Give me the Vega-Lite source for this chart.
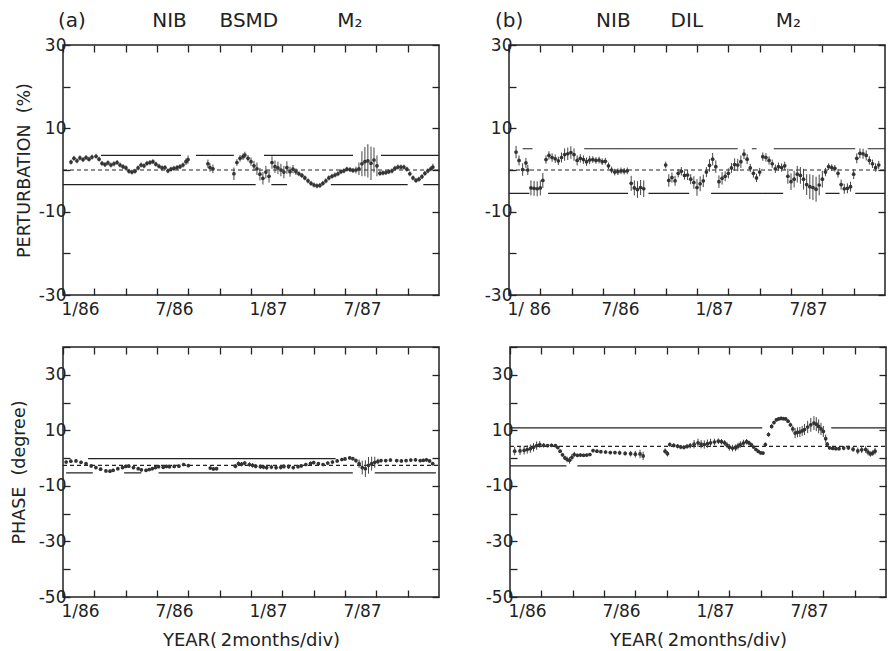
{
"$schema":"https://vega.github.io/schema/vega-lite/v6.json",
"background":"white",
"padding":{"left":9,"top":10,"right":2,"bottom":0},
"config":{"font":"DejaVu Sans","view":{"stroke":"#222","strokeWidth":1.5},"axis":{"labelColor":"#222","tickColor":"#222","titleColor":"#222","tickWidth":1.3,"domain":false,"grid":false,"labelFontSize":17,"labelOverlap":false,"labelFlush":false,"labelBound":false,"tickSize":-7,"titleFontWeight":"normal"}},
"datasets":{
"lines":[
{"p":"a","k":"s","v":3.5,"m1":2.43,"m2":7.53},{"p":"a","k":"s","v":3.5,"m1":8.49,"m2":10.91},{"p":"a","k":"s","v":3.5,"m1":12.83,"m2":18.51},{"p":"a","k":"s","v":3.5,"m1":20.3,"m2":24},
{"p":"a","k":"d","v":0,"m1":0,"m2":24},
{"p":"a","k":"s","v":-3.5,"m1":0,"m2":12.3},{"p":"a","k":"s","v":-3.5,"m1":13.3,"m2":14.3},{"p":"a","k":"s","v":-3.5,"m1":17.1,"m2":22.0},{"p":"a","k":"s","v":-3.5,"m1":23.0,"m2":24},
{"p":"b","k":"s","v":5.1,"m1":0.87,"m2":1.5},{"p":"b","k":"s","v":5.1,"m1":4.8,"m2":14.6},{"p":"b","k":"s","v":5.1,"m1":15.5,"m2":15.8},{"p":"b","k":"s","v":5.1,"m1":16.9,"m2":22.1},{"p":"b","k":"s","v":5.1,"m1":22.9,"m2":24},
{"p":"b","k":"d","v":0,"m1":0,"m2":24},
{"p":"b","k":"s","v":-5.6,"m1":0,"m2":1.3},{"p":"b","k":"s","v":-5.6,"m1":2.5,"m2":7.6},{"p":"b","k":"s","v":-5.6,"m1":8.9,"m2":11.5},{"p":"b","k":"s","v":-5.6,"m1":12.9,"m2":17.5},{"p":"b","k":"s","v":-5.6,"m1":20.2,"m2":21.1},{"p":"b","k":"s","v":-5.6,"m1":22.1,"m2":24},
{"p":"c","k":"s","v":-0.2,"m1":1.6,"m2":17.4},
{"p":"c","k":"d","v":-2.6,"m1":0,"m2":24},
{"p":"c","k":"s","v":-5.3,"m1":0.2,"m2":1.9},{"p":"c","k":"s","v":-5.3,"m1":3.9,"m2":5.0},{"p":"c","k":"s","v":-5.3,"m1":6.1,"m2":18.5},{"p":"c","k":"s","v":-5.3,"m1":19.9,"m2":23.8},
{"p":"d","k":"s","v":10.9,"m1":0,"m2":16.1},{"p":"d","k":"s","v":10.9,"m1":20.5,"m2":24},
{"p":"d","k":"d","v":4.2,"m1":0,"m2":24},
{"p":"d","k":"s","v":-2.8,"m1":0,"m2":3.6},{"p":"d","k":"s","v":-2.8,"m1":4.3,"m2":24}
],
"pts":[
{"p":"a","m":0.51,"v":1.9,"e":0.6},{"p":"a","m":0.70,"v":2.8,"e":0.6},{"p":"a","m":0.89,"v":2.2,"e":0.6},{"p":"a","m":1.08,"v":2.9,"e":0.6},{"p":"a","m":1.28,"v":2.5,"e":0.6},{"p":"a","m":1.47,"v":3.0,"e":0.6},{"p":"a","m":1.66,"v":2.6,"e":0.6},{"p":"a","m":1.85,"v":3.1,"e":0.6},{"p":"a","m":2.11,"v":3.3,"e":0.6},{"p":"a","m":2.30,"v":2.6,"e":0.6},{"p":"a","m":2.49,"v":1.6,"e":0.6},{"p":"a","m":2.68,"v":1.3,"e":0.6},{"p":"a","m":2.87,"v":1.7,"e":0.6},{"p":"a","m":3.06,"v":1.2,"e":0.6},{"p":"a","m":3.25,"v":1.5,"e":0.6},{"p":"a","m":3.45,"v":1.8,"e":0.6},{"p":"a","m":3.64,"v":1.2,"e":0.6},{"p":"a","m":3.83,"v":0.8,"e":0.6},{"p":"a","m":4.02,"v":0.5,"e":0.6},{"p":"a","m":4.21,"v":-0.3,"e":0.6},{"p":"a","m":4.40,"v":-0.5,"e":0.6},{"p":"a","m":4.59,"v":-0.3,"e":0.6},{"p":"a","m":4.79,"v":0.5,"e":0.6},{"p":"a","m":4.98,"v":1.2,"e":0.6},{"p":"a","m":5.17,"v":1.0,"e":0.6},{"p":"a","m":5.36,"v":1.6,"e":0.6},{"p":"a","m":5.55,"v":1.8,"e":0.6},{"p":"a","m":5.74,"v":2.0,"e":0.6},{"p":"a","m":5.93,"v":1.4,"e":0.6},{"p":"a","m":6.13,"v":0.9,"e":0.6},{"p":"a","m":6.32,"v":0.5,"e":0.6},{"p":"a","m":6.51,"v":0.6,"e":0.6},{"p":"a","m":6.70,"v":-0.2,"e":0.6},{"p":"a","m":6.89,"v":0.2,"e":0.6},{"p":"a","m":7.08,"v":0.4,"e":0.6},{"p":"a","m":7.28,"v":0.6,"e":0.6},{"p":"a","m":7.47,"v":0.8,"e":0.6},{"p":"a","m":7.66,"v":1.2,"e":0.6},{"p":"a","m":7.85,"v":2.0,"e":0.8},{"p":"a","m":7.98,"v":2.5,"e":1.0},
{"p":"a","m":9.25,"v":1.5,"e":1.0},{"p":"a","m":9.38,"v":0.6,"e":1.0},{"p":"a","m":9.57,"v":0.3,"e":1.0},
{"p":"a","m":10.91,"v":-0.9,"e":1.5},{"p":"a","m":11.10,"v":1.8,"e":0.8},{"p":"a","m":11.30,"v":2.8,"e":0.8},{"p":"a","m":11.49,"v":3.2,"e":0.8},{"p":"a","m":11.61,"v":3.6,"e":0.8},{"p":"a","m":11.81,"v":2.8,"e":0.8},{"p":"a","m":12.00,"v":2.0,"e":1.0},{"p":"a","m":12.19,"v":1.0,"e":1.2},{"p":"a","m":12.38,"v":0.3,"e":1.5},{"p":"a","m":12.57,"v":-1.0,"e":1.5},{"p":"a","m":12.76,"v":-2.0,"e":1.5},{"p":"a","m":12.95,"v":-0.5,"e":1.5},{"p":"a","m":13.15,"v":-1.5,"e":1.5},{"p":"a","m":13.34,"v":1.8,"e":1.5},{"p":"a","m":13.53,"v":0.8,"e":1.5},{"p":"a","m":13.72,"v":0.5,"e":1.5},{"p":"a","m":13.91,"v":0.0,"e":1.5},{"p":"a","m":14.10,"v":-0.5,"e":1.5},{"p":"a","m":14.29,"v":0.6,"e":1.5},{"p":"a","m":14.49,"v":-0.4,"e":1.2},{"p":"a","m":14.68,"v":0.2,"e":1.0},{"p":"a","m":14.87,"v":-0.4,"e":0.8},{"p":"a","m":15.06,"v":-0.9,"e":0.6},{"p":"a","m":15.25,"v":-1.3,"e":0.6},{"p":"a","m":15.44,"v":-1.9,"e":0.6},{"p":"a","m":15.64,"v":-2.6,"e":0.6},{"p":"a","m":15.83,"v":-3.2,"e":0.6},{"p":"a","m":16.02,"v":-3.6,"e":0.6},{"p":"a","m":16.21,"v":-3.8,"e":0.6},{"p":"a","m":16.40,"v":-3.7,"e":0.6},{"p":"a","m":16.59,"v":-3.2,"e":0.6},{"p":"a","m":16.78,"v":-2.6,"e":0.6},{"p":"a","m":16.97,"v":-1.9,"e":0.6},{"p":"a","m":17.17,"v":-1.5,"e":0.6},{"p":"a","m":17.36,"v":-1.2,"e":0.6},{"p":"a","m":17.55,"v":-0.9,"e":0.6},{"p":"a","m":17.74,"v":-0.4,"e":0.6},{"p":"a","m":17.93,"v":-0.2,"e":0.6},{"p":"a","m":18.12,"v":0.2,"e":0.6},{"p":"a","m":18.32,"v":0.1,"e":0.6},{"p":"a","m":18.51,"v":-0.1,"e":0.6},{"p":"a","m":18.70,"v":0.0,"e":0.8},{"p":"a","m":18.89,"v":0.3,"e":1.5},{"p":"a","m":19.08,"v":1.5,"e":3.0},{"p":"a","m":19.27,"v":2.0,"e":3.5},{"p":"a","m":19.46,"v":2.2,"e":4.0},{"p":"a","m":19.66,"v":1.6,"e":4.0},{"p":"a","m":19.85,"v":2.4,"e":3.0},{"p":"a","m":20.04,"v":1.0,"e":2.5},{"p":"a","m":20.23,"v":-0.8,"e":0.6},{"p":"a","m":20.42,"v":-0.7,"e":0.6},{"p":"a","m":20.61,"v":-0.6,"e":0.6},{"p":"a","m":20.80,"v":-0.4,"e":0.6},{"p":"a","m":21.00,"v":-0.2,"e":0.6},{"p":"a","m":21.19,"v":0.4,"e":0.6},{"p":"a","m":21.38,"v":0.7,"e":0.6},{"p":"a","m":21.57,"v":0.7,"e":0.6},{"p":"a","m":21.76,"v":0.7,"e":0.6},{"p":"a","m":21.95,"v":0.2,"e":0.6},{"p":"a","m":22.14,"v":-0.9,"e":0.6},{"p":"a","m":22.34,"v":-1.9,"e":0.6},{"p":"a","m":22.53,"v":-2.5,"e":0.6},{"p":"a","m":22.72,"v":-2.2,"e":0.6},{"p":"a","m":22.91,"v":-1.6,"e":0.6},{"p":"a","m":23.10,"v":-0.8,"e":0.6},{"p":"a","m":23.29,"v":-0.2,"e":0.6},{"p":"a","m":23.48,"v":0.3,"e":0.6},{"p":"a","m":23.61,"v":0.7,"e":0.8},
{"p":"b","m":0.45,"v":4.3,"e":1.5},{"p":"b","m":0.64,"v":2.3,"e":1.2},{"p":"b","m":0.87,"v":0.1,"e":1.5},{"p":"b","m":1.08,"v":1.7,"e":1.2},{"p":"b","m":1.2,"v":0.0,"e":1.2},{"p":"b","m":1.4,"v":-4.3,"e":1.8},{"p":"b","m":1.6,"v":-4.4,"e":1.8},{"p":"b","m":1.8,"v":-4.5,"e":1.8},{"p":"b","m":2.0,"v":-4.3,"e":1.8},{"p":"b","m":2.16,"v":-2.5,"e":1.8},{"p":"b","m":2.36,"v":2.5,"e":1.0},{"p":"b","m":2.55,"v":3.5,"e":1.0},{"p":"b","m":2.75,"v":3.0,"e":1.0},{"p":"b","m":2.95,"v":2.7,"e":1.0},{"p":"b","m":3.15,"v":2.2,"e":1.0},{"p":"b","m":3.35,"v":3.0,"e":1.2},{"p":"b","m":3.55,"v":3.7,"e":1.5},{"p":"b","m":3.75,"v":3.9,"e":1.5},{"p":"b","m":3.95,"v":4.2,"e":1.5},{"p":"b","m":4.15,"v":3.7,"e":1.5},{"p":"b","m":4.35,"v":2.3,"e":1.2},{"p":"b","m":4.55,"v":2.8,"e":1.0},{"p":"b","m":4.75,"v":2.5,"e":1.0},{"p":"b","m":4.95,"v":2.0,"e":1.0},{"p":"b","m":5.15,"v":2.4,"e":1.0},{"p":"b","m":5.35,"v":2.5,"e":0.8},{"p":"b","m":5.55,"v":2.3,"e":0.8},{"p":"b","m":5.75,"v":2.4,"e":0.8},{"p":"b","m":5.95,"v":2.0,"e":0.8},{"p":"b","m":6.15,"v":2.1,"e":0.8},{"p":"b","m":6.35,"v":1.0,"e":0.8},{"p":"b","m":6.55,"v":0.0,"e":0.8},{"p":"b","m":6.75,"v":-0.5,"e":0.8},{"p":"b","m":6.95,"v":-0.4,"e":0.8},{"p":"b","m":7.15,"v":-0.2,"e":0.8},{"p":"b","m":7.35,"v":-0.3,"e":0.8},{"p":"b","m":7.55,"v":-0.2,"e":0.8},{"p":"b","m":7.8,"v":-3.2,"e":1.8},{"p":"b","m":8.0,"v":-4.3,"e":1.8},{"p":"b","m":8.2,"v":-4.7,"e":2.0},{"p":"b","m":8.4,"v":-4.2,"e":1.8},{"p":"b","m":8.6,"v":-4.5,"e":2.0},
{"p":"b","m":10.0,"v":1.2,"e":0.8},{"p":"b","m":10.2,"v":-2.5,"e":1.5},{"p":"b","m":10.4,"v":-1.8,"e":1.2},{"p":"b","m":10.6,"v":-2.6,"e":1.2},{"p":"b","m":10.8,"v":-0.8,"e":1.0},{"p":"b","m":11.0,"v":-0.3,"e":1.0},{"p":"b","m":11.2,"v":-1.3,"e":1.0},{"p":"b","m":11.4,"v":-1.2,"e":1.2},{"p":"b","m":11.6,"v":-2.2,"e":1.2},{"p":"b","m":11.8,"v":-3.0,"e":1.5},{"p":"b","m":12.0,"v":-4.2,"e":2.0},{"p":"b","m":12.2,"v":-3.3,"e":1.8},{"p":"b","m":12.4,"v":-2.6,"e":1.5},{"p":"b","m":12.6,"v":-0.5,"e":1.2},{"p":"b","m":12.8,"v":1.1,"e":1.5},{"p":"b","m":13.0,"v":2.6,"e":1.5},{"p":"b","m":13.2,"v":0.8,"e":1.5},{"p":"b","m":13.4,"v":-2.8,"e":1.5},{"p":"b","m":13.6,"v":-2.0,"e":1.5},{"p":"b","m":13.8,"v":-1.5,"e":1.2},{"p":"b","m":14.0,"v":-0.8,"e":1.2},{"p":"b","m":14.2,"v":0.5,"e":1.2},{"p":"b","m":14.4,"v":1.3,"e":1.5},{"p":"b","m":14.6,"v":1.2,"e":1.5},{"p":"b","m":14.8,"v":2.0,"e":1.5},{"p":"b","m":15.0,"v":3.8,"e":1.2},{"p":"b","m":15.2,"v":2.6,"e":1.2},{"p":"b","m":15.4,"v":0.5,"e":1.0},{"p":"b","m":15.6,"v":-0.8,"e":1.0},{"p":"b","m":15.8,"v":-1.9,"e":1.0},{"p":"b","m":16.0,"v":-0.5,"e":1.0},{"p":"b","m":16.2,"v":3.2,"e":1.0},{"p":"b","m":16.4,"v":3.0,"e":1.0},{"p":"b","m":16.6,"v":2.3,"e":1.0},{"p":"b","m":16.8,"v":1.5,"e":1.0},{"p":"b","m":17.0,"v":0.3,"e":1.0},{"p":"b","m":17.2,"v":0.8,"e":1.0},{"p":"b","m":17.4,"v":0.6,"e":1.0},{"p":"b","m":17.6,"v":1.0,"e":1.0},{"p":"b","m":17.8,"v":-1.5,"e":1.8},{"p":"b","m":18.0,"v":-2.8,"e":2.0},{"p":"b","m":18.2,"v":-2.2,"e":2.0},{"p":"b","m":18.4,"v":-1.0,"e":2.0},{"p":"b","m":18.6,"v":-1.3,"e":2.0},{"p":"b","m":18.8,"v":-2.2,"e":2.5},{"p":"b","m":19.0,"v":-3.5,"e":2.5},{"p":"b","m":19.2,"v":-4.0,"e":3.0},{"p":"b","m":19.4,"v":-4.2,"e":3.0},{"p":"b","m":19.6,"v":-4.6,"e":3.0},{"p":"b","m":19.8,"v":-3.6,"e":2.5},{"p":"b","m":20.0,"v":-2.2,"e":2.0},{"p":"b","m":20.2,"v":-0.5,"e":1.0},{"p":"b","m":20.4,"v":0.8,"e":0.8},{"p":"b","m":20.6,"v":0.6,"e":0.8},{"p":"b","m":20.8,"v":0.4,"e":0.8},{"p":"b","m":21.0,"v":-0.8,"e":1.0},{"p":"b","m":21.2,"v":-3.5,"e":1.2},{"p":"b","m":21.4,"v":-4.5,"e":1.2},{"p":"b","m":21.6,"v":-4.4,"e":1.2},{"p":"b","m":21.8,"v":-4.0,"e":1.2},{"p":"b","m":22.0,"v":-1.0,"e":1.2},{"p":"b","m":22.2,"v":2.8,"e":1.2},{"p":"b","m":22.4,"v":4.0,"e":1.2},{"p":"b","m":22.6,"v":3.9,"e":1.2},{"p":"b","m":22.8,"v":3.5,"e":1.2},{"p":"b","m":23.0,"v":2.3,"e":1.0},{"p":"b","m":23.2,"v":1.5,"e":1.0},{"p":"b","m":23.4,"v":0.6,"e":1.0},{"p":"b","m":23.6,"v":1.2,"e":1.0},
{"p":"c","m":0.2,"v":-1.4,"e":0.6},{"p":"c","m":0.5,"v":-1.1,"e":0.6},{"p":"c","m":0.83,"v":-1.0,"e":0.6},{"p":"c","m":1.15,"v":-1.5,"e":0.6},{"p":"c","m":1.47,"v":-2.0,"e":0.6},{"p":"c","m":1.8,"v":-2.8,"e":0.6},{"p":"c","m":2.1,"v":-3.4,"e":0.6},{"p":"c","m":2.4,"v":-4.0,"e":0.6},{"p":"c","m":2.74,"v":-4.6,"e":0.6},{"p":"c","m":3.0,"v":-4.7,"e":0.6},{"p":"c","m":3.2,"v":-4.4,"e":0.6},{"p":"c","m":3.5,"v":-3.8,"e":0.6},{"p":"c","m":3.8,"v":-3.4,"e":0.6},{"p":"c","m":4.0,"v":-3.0,"e":0.6},{"p":"c","m":4.2,"v":-2.9,"e":0.6},{"p":"c","m":4.5,"v":-3.4,"e":0.6},{"p":"c","m":4.8,"v":-3.8,"e":0.6},{"p":"c","m":5.0,"v":-4.2,"e":0.6},{"p":"c","m":5.3,"v":-4.4,"e":0.6},{"p":"c","m":5.5,"v":-4.1,"e":0.6},{"p":"c","m":5.7,"v":-3.8,"e":0.6},{"p":"c","m":5.9,"v":-3.4,"e":0.6},{"p":"c","m":6.1,"v":-3.1,"e":0.6},{"p":"c","m":6.4,"v":-3.3,"e":0.6},{"p":"c","m":6.6,"v":-3.0,"e":0.6},{"p":"c","m":6.8,"v":-3.1,"e":0.6},{"p":"c","m":7.1,"v":-3.0,"e":0.6},{"p":"c","m":7.4,"v":-2.9,"e":0.6},{"p":"c","m":7.7,"v":-2.3,"e":0.6},{"p":"c","m":8.0,"v":-2.7,"e":0.6},
{"p":"c","m":9.4,"v":-3.6,"e":0.6},{"p":"c","m":9.6,"v":-3.9,"e":0.6},{"p":"c","m":9.8,"v":-3.8,"e":0.6},
{"p":"c","m":11.0,"v":-2.9,"e":0.8},{"p":"c","m":11.2,"v":-2.0,"e":0.8},{"p":"c","m":11.4,"v":-2.2,"e":0.8},{"p":"c","m":11.6,"v":-1.8,"e":0.8},{"p":"c","m":11.9,"v":-2.3,"e":0.8},{"p":"c","m":12.1,"v":-2.6,"e":0.8},{"p":"c","m":12.3,"v":-2.9,"e":0.8},{"p":"c","m":12.6,"v":-3.1,"e":0.8},{"p":"c","m":12.8,"v":-3.2,"e":0.8},{"p":"c","m":13.0,"v":-3.4,"e":0.8},{"p":"c","m":13.3,"v":-3.2,"e":0.8},{"p":"c","m":13.6,"v":-3.4,"e":0.8},{"p":"c","m":13.9,"v":-3.3,"e":0.8},{"p":"c","m":14.1,"v":-3.0,"e":0.8},{"p":"c","m":14.4,"v":-3.1,"e":0.8},{"p":"c","m":14.7,"v":-3.4,"e":0.6},{"p":"c","m":15.0,"v":-3.1,"e":0.6},{"p":"c","m":15.2,"v":-2.8,"e":0.6},{"p":"c","m":15.5,"v":-2.3,"e":0.6},{"p":"c","m":15.8,"v":-1.9,"e":0.6},{"p":"c","m":16.0,"v":-1.6,"e":0.6},{"p":"c","m":16.3,"v":-2.0,"e":0.6},{"p":"c","m":16.6,"v":-2.3,"e":0.6},{"p":"c","m":16.9,"v":-1.8,"e":0.6},{"p":"c","m":17.2,"v":-1.4,"e":0.6},{"p":"c","m":17.5,"v":-1.0,"e":0.6},{"p":"c","m":17.8,"v":-0.5,"e":0.6},{"p":"c","m":18.0,"v":-0.3,"e":0.6},{"p":"c","m":18.3,"v":0.1,"e":0.6},{"p":"c","m":18.5,"v":-0.2,"e":0.6},{"p":"c","m":18.7,"v":-0.9,"e":0.8},{"p":"c","m":18.9,"v":-2.0,"e":1.5},{"p":"c","m":19.1,"v":-3.4,"e":2.5},{"p":"c","m":19.3,"v":-3.8,"e":3.0},{"p":"c","m":19.5,"v":-2.6,"e":3.0},{"p":"c","m":19.7,"v":-2.0,"e":2.5},{"p":"c","m":19.9,"v":-1.5,"e":2.0},{"p":"c","m":20.1,"v":-1.2,"e":1.0},{"p":"c","m":20.3,"v":-0.9,"e":0.6},{"p":"c","m":20.6,"v":-0.9,"e":0.6},{"p":"c","m":20.9,"v":-0.7,"e":0.6},{"p":"c","m":21.3,"v":-0.9,"e":0.6},{"p":"c","m":21.6,"v":-1.0,"e":0.6},{"p":"c","m":21.9,"v":-0.9,"e":0.6},{"p":"c","m":22.2,"v":-0.7,"e":0.6},{"p":"c","m":22.5,"v":-0.6,"e":0.6},{"p":"c","m":22.8,"v":-0.9,"e":0.6},{"p":"c","m":23.0,"v":-0.8,"e":0.6},{"p":"c","m":23.2,"v":-0.6,"e":0.6},{"p":"c","m":23.4,"v":-1.0,"e":0.6},{"p":"c","m":23.6,"v":-2.0,"e":0.6},
{"p":"d","m":0.3,"v":2.5,"e":1.5},{"p":"d","m":0.64,"v":2.6,"e":1.5},{"p":"d","m":0.9,"v":2.8,"e":1.5},{"p":"d","m":1.1,"v":3.1,"e":1.5},{"p":"d","m":1.3,"v":3.4,"e":1.5},{"p":"d","m":1.5,"v":3.9,"e":1.5},{"p":"d","m":1.7,"v":4.5,"e":1.5},{"p":"d","m":1.9,"v":4.9,"e":1.2},{"p":"d","m":2.15,"v":4.6,"e":0.8},{"p":"d","m":2.4,"v":4.5,"e":0.6},{"p":"d","m":2.65,"v":4.6,"e":0.6},{"p":"d","m":2.9,"v":4.5,"e":0.6},{"p":"d","m":3.05,"v":3.8,"e":0.6},{"p":"d","m":3.2,"v":2.5,"e":0.6},{"p":"d","m":3.35,"v":1.2,"e":0.6},{"p":"d","m":3.5,"v":0.1,"e":0.8},{"p":"d","m":3.65,"v":-0.5,"e":1.0},{"p":"d","m":3.8,"v":-0.8,"e":1.2},{"p":"d","m":3.95,"v":0.3,"e":1.2},{"p":"d","m":4.1,"v":1.3,"e":1.0},{"p":"d","m":4.3,"v":1.0,"e":0.6},{"p":"d","m":4.5,"v":1.1,"e":0.6},{"p":"d","m":4.7,"v":1.0,"e":0.6},{"p":"d","m":4.9,"v":1.1,"e":0.6},{"p":"d","m":5.1,"v":1.3,"e":0.6},{"p":"d","m":5.3,"v":2.7,"e":0.6},{"p":"d","m":5.55,"v":2.5,"e":0.6},{"p":"d","m":5.8,"v":2.3,"e":0.6},{"p":"d","m":6.1,"v":2.2,"e":0.6},{"p":"d","m":6.4,"v":2.0,"e":0.6},{"p":"d","m":6.7,"v":2.0,"e":0.6},{"p":"d","m":7.0,"v":1.9,"e":0.8},{"p":"d","m":7.35,"v":1.7,"e":0.8},{"p":"d","m":7.7,"v":1.6,"e":1.0},{"p":"d","m":8.0,"v":1.4,"e":1.2},{"p":"d","m":8.3,"v":1.5,"e":1.5},{"p":"d","m":8.5,"v":0.8,"e":1.5},
{"p":"d","m":9.9,"v":2.5,"e":1.0},{"p":"d","m":10.05,"v":1.6,"e":1.0},{"p":"d","m":10.2,"v":4.9,"e":0.8},{"p":"d","m":10.45,"v":4.6,"e":0.8},{"p":"d","m":10.7,"v":4.3,"e":0.8},{"p":"d","m":10.9,"v":4.0,"e":0.8},{"p":"d","m":11.1,"v":3.9,"e":0.8},{"p":"d","m":11.3,"v":4.2,"e":0.8},{"p":"d","m":11.5,"v":4.5,"e":1.0},{"p":"d","m":11.75,"v":5.0,"e":1.5},{"p":"d","m":12.0,"v":5.5,"e":1.5},{"p":"d","m":12.2,"v":5.0,"e":1.5},{"p":"d","m":12.4,"v":4.9,"e":1.5},{"p":"d","m":12.6,"v":5.2,"e":1.5},{"p":"d","m":12.8,"v":5.5,"e":1.5},{"p":"d","m":13.05,"v":5.8,"e":1.2},{"p":"d","m":13.3,"v":6.1,"e":1.0},{"p":"d","m":13.5,"v":5.9,"e":1.0},{"p":"d","m":13.7,"v":5.5,"e":1.0},{"p":"d","m":13.85,"v":4.7,"e":1.0},{"p":"d","m":14.0,"v":3.9,"e":1.2},{"p":"d","m":14.2,"v":3.6,"e":1.2},{"p":"d","m":14.4,"v":3.7,"e":1.2},{"p":"d","m":14.55,"v":4.3,"e":1.2},{"p":"d","m":14.7,"v":4.9,"e":1.2},{"p":"d","m":14.9,"v":5.4,"e":1.2},{"p":"d","m":15.1,"v":5.9,"e":1.0},{"p":"d","m":15.25,"v":5.5,"e":0.8},{"p":"d","m":15.4,"v":4.9,"e":0.6},{"p":"d","m":15.55,"v":4.0,"e":0.6},{"p":"d","m":15.7,"v":3.1,"e":0.6},{"p":"d","m":15.85,"v":2.4,"e":0.6},{"p":"d","m":16.0,"v":1.9,"e":0.6},{"p":"d","m":16.15,"v":1.8,"e":0.6},{"p":"d","m":16.3,"v":4.9,"e":0.8},{"p":"d","m":16.5,"v":8.5,"e":0.8},{"p":"d","m":16.7,"v":11.4,"e":0.8},{"p":"d","m":16.85,"v":12.8,"e":0.6},{"p":"d","m":17.0,"v":13.8,"e":0.6},{"p":"d","m":17.15,"v":14.1,"e":0.6},{"p":"d","m":17.3,"v":14.3,"e":0.6},{"p":"d","m":17.45,"v":14.2,"e":0.6},{"p":"d","m":17.6,"v":14.1,"e":0.6},{"p":"d","m":17.75,"v":13.3,"e":0.6},{"p":"d","m":17.9,"v":12.0,"e":0.8},{"p":"d","m":18.05,"v":10.5,"e":1.2},{"p":"d","m":18.2,"v":9.0,"e":1.8},{"p":"d","m":18.35,"v":9.3,"e":1.8},{"p":"d","m":18.5,"v":9.4,"e":1.8},{"p":"d","m":18.65,"v":9.8,"e":1.8},{"p":"d","m":18.8,"v":10.3,"e":2.0},{"p":"d","m":19.0,"v":11.2,"e":2.2},{"p":"d","m":19.2,"v":12.0,"e":2.5},{"p":"d","m":19.4,"v":12.6,"e":2.5},{"p":"d","m":19.55,"v":12.2,"e":2.5},{"p":"d","m":19.7,"v":11.4,"e":2.5},{"p":"d","m":19.85,"v":10.5,"e":2.2},{"p":"d","m":20.0,"v":9.6,"e":2.0},{"p":"d","m":20.15,"v":7.0,"e":1.5},{"p":"d","m":20.25,"v":5.0,"e":0.8},{"p":"d","m":20.4,"v":3.7,"e":0.6},{"p":"d","m":20.6,"v":3.5,"e":0.6},{"p":"d","m":20.8,"v":3.4,"e":0.6},{"p":"d","m":21.0,"v":3.4,"e":0.6},{"p":"d","m":21.3,"v":3.6,"e":0.8},{"p":"d","m":21.6,"v":3.7,"e":0.8},{"p":"d","m":21.9,"v":3.2,"e":1.0},{"p":"d","m":22.2,"v":2.6,"e":1.2},{"p":"d","m":22.45,"v":3.0,"e":1.2},{"p":"d","m":22.7,"v":3.1,"e":1.2},{"p":"d","m":22.85,"v":2.2,"e":1.2},{"p":"d","m":23.0,"v":1.5,"e":1.0},{"p":"d","m":23.15,"v":1.8,"e":1.0},{"p":"d","m":23.3,"v":2.5,"e":1.2}
]
},
"vconcat":[
{"hconcat":[
{"width":376,"height":250,
 "title":{"text":"(a)\u2003\u2003\u2003\u00a0NIB\u2003\u00a0\u00a0BSMD\u2003\u2003\u00a0\u00a0\u00a0M\u2082","anchor":"start","frame":"group","dx":-5,"fontSize":20,"fontWeight":"normal","offset":5,"color":"#222"},
 "layer":[
  {"data":{"name":"lines"},"transform":[{"filter":"datum.p==='a'"}],"mark":{"type":"rule","color":"#222","strokeWidth":1.2},
   "encoding":{"x":{"field":"m1","type":"quantitative","scale":{"domain":[0,24],"nice":false,"zero":false},"axis":{"orient":"bottom","values":[0,2,4,6,8,10,12,14,16,18,20,22],"labelExpr":"datum.value==0?'1/86':datum.value==6?'7/86':datum.value==12?'1/87':datum.value==18?'7/87':''","labelAlign":"left","labelOffset":-2,"labelPadding":13,"title":null}},
    "x2":{"field":"m2"},
    "y":{"field":"v","type":"quantitative","scale":{"domain":[-30,30],"nice":false,"zero":false},"axis":{"orient":"left","values":[-30,-20,-10,0,10,20,30],"labelExpr":"datum.value%20!=0?''+datum.value:''","labelPadding":4,"title":"PERTURBATION\u00a0\u00a0(%)","titleFontSize":17.5,"titlePadding":5}},
    "strokeDash":{"field":"k","type":"nominal","scale":{"domain":["s","d"],"range":[[1,0],[4,3]]},"legend":null}}},
  {"data":{"name":"pts"},"transform":[{"filter":"datum.p==='a'"}],"mark":{"type":"errorbar","color":"#444","thickness":1},
   "encoding":{"x":{"field":"m","type":"quantitative","axis":{"orient":"top","values":[0,2,4,6,8,10,12,14,16,18,20,22],"labels":false,"title":null}},"y":{"field":"v","type":"quantitative","axis":{"orient":"right","values":[-30,-20,-10,0,10,20,30],"labels":false,"title":null}},"yError":{"field":"e"}}},
  {"data":{"name":"pts"},"transform":[{"filter":"datum.p==='a'"}],"mark":{"type":"point","filled":true,"size":14,"color":"#333","opacity":1},
   "encoding":{"x":{"field":"m","type":"quantitative","axis":null},"y":{"field":"v","type":"quantitative","axis":null}}}
 ],
 "resolve":{"axis":{"x":"independent","y":"independent"}}},
{"width":376,"height":250,
 "title":{"text":"(b)\u2003\u2003\u2003\u00a0\u00a0NIB\u2003\u2003DIL\u2003\u2003\u2003\u00a0\u00a0M\u2082","anchor":"start","frame":"group","dx":-14,"fontSize":20,"fontWeight":"normal","offset":5,"color":"#222"},
 "layer":[
  {"data":{"name":"lines"},"transform":[{"filter":"datum.p==='b'"}],"mark":{"type":"rule","color":"#222","strokeWidth":1.2},
   "encoding":{"x":{"field":"m1","type":"quantitative","scale":{"domain":[0,24],"nice":false,"zero":false},"axis":{"orient":"bottom","values":[0,2,4,6,8,10,12,14,16,18,20,22],"labelExpr":"datum.value==0?'1/ 86':datum.value==6?'7/86':datum.value==12?'1/87':datum.value==18?'7/87':''","labelAlign":"left","labelOffset":-2,"labelPadding":13,"title":null}},
    "x2":{"field":"m2"},
    "y":{"field":"v","type":"quantitative","scale":{"domain":[-30,30],"nice":false,"zero":false},"axis":{"orient":"left","values":[-30,-20,-10,0,10,20,30],"labelExpr":"datum.value%20!=0?''+datum.value:''","labelPadding":4,"title":null}},
    "strokeDash":{"field":"k","type":"nominal","scale":{"domain":["s","d"],"range":[[1,0],[4,3]]},"legend":null}}},
  {"data":{"name":"pts"},"transform":[{"filter":"datum.p==='b'"}],"mark":{"type":"errorbar","color":"#444","thickness":1},
   "encoding":{"x":{"field":"m","type":"quantitative","axis":{"orient":"top","values":[0,2,4,6,8,10,12,14,16,18,20,22],"labels":false,"title":null}},"y":{"field":"v","type":"quantitative","axis":{"orient":"right","values":[-30,-20,-10,0,10,20,30],"labels":false,"title":null}},"yError":{"field":"e"}}},
  {"data":{"name":"pts"},"transform":[{"filter":"datum.p==='b'"}],"mark":{"type":"point","filled":true,"size":14,"color":"#333","opacity":1},
   "encoding":{"x":{"field":"m","type":"quantitative","axis":null},"y":{"field":"v","type":"quantitative","axis":null}}}
 ],
 "resolve":{"axis":{"x":"independent","y":"independent"}}}
],"spacing":42},
{"hconcat":[
{"width":376,"height":250,
 "layer":[
  {"data":{"name":"lines"},"transform":[{"filter":"datum.p==='c'"}],"mark":{"type":"rule","color":"#222","strokeWidth":1.2},
   "encoding":{"x":{"field":"m1","type":"quantitative","scale":{"domain":[0,24],"nice":false,"zero":false},"axis":{"orient":"bottom","values":[0,2,4,6,8,10,12,14,16,18,20,22],"labelExpr":"datum.value==0?'1/86':datum.value==6?'7/86':datum.value==12?'1/87':datum.value==18?'7/87':''","labelAlign":"left","labelOffset":-2,"labelPadding":13,"title":"YEAR(\u20092months/div)","titleFontSize":18,"titlePadding":12}},
    "x2":{"field":"m2"},
    "y":{"field":"v","type":"quantitative","scale":{"domain":[-50,40],"nice":false,"zero":false},"axis":{"orient":"left","values":[-50,-40,-30,-20,-10,0,10,20,30,40],"labelExpr":"datum.value%20!=0?''+datum.value:''","labelPadding":4,"title":"PHASE\u00a0\u00a0(degree)","titleFontSize":17.5,"titlePadding":10}},
    "strokeDash":{"field":"k","type":"nominal","scale":{"domain":["s","d"],"range":[[1,0],[4,3]]},"legend":null}}},
  {"data":{"name":"pts"},"transform":[{"filter":"datum.p==='c'"}],"mark":{"type":"errorbar","color":"#444","thickness":1},
   "encoding":{"x":{"field":"m","type":"quantitative","axis":{"orient":"top","values":[0,2,4,6,8,10,12,14,16,18,20,22],"labels":false,"title":null}},"y":{"field":"v","type":"quantitative","axis":{"orient":"right","values":[-50,-40,-30,-20,-10,0,10,20,30,40],"labels":false,"title":null}},"yError":{"field":"e"}}},
  {"data":{"name":"pts"},"transform":[{"filter":"datum.p==='c'"}],"mark":{"type":"point","filled":true,"size":14,"color":"#333","opacity":1},
   "encoding":{"x":{"field":"m","type":"quantitative","axis":null},"y":{"field":"v","type":"quantitative","axis":null}}}
 ],
 "resolve":{"axis":{"x":"independent","y":"independent"}}},
{"width":376,"height":250,
 "layer":[
  {"data":{"name":"lines"},"transform":[{"filter":"datum.p==='d'"}],"mark":{"type":"rule","color":"#222","strokeWidth":1.2},
   "encoding":{"x":{"field":"m1","type":"quantitative","scale":{"domain":[0,24],"nice":false,"zero":false},"axis":{"orient":"bottom","values":[0,2,4,6,8,10,12,14,16,18,20,22],"labelExpr":"datum.value==0?'1/86':datum.value==6?'7/86':datum.value==12?'1/87':datum.value==18?'7/87':''","labelAlign":"left","labelOffset":-2,"labelPadding":13,"title":"YEAR(\u20092months/div)","titleFontSize":18,"titlePadding":12}},
    "x2":{"field":"m2"},
    "y":{"field":"v","type":"quantitative","scale":{"domain":[-50,40],"nice":false,"zero":false},"axis":{"orient":"left","values":[-50,-40,-30,-20,-10,0,10,20,30,40],"labelExpr":"datum.value%20!=0?''+datum.value:''","labelPadding":4,"title":null}},
    "strokeDash":{"field":"k","type":"nominal","scale":{"domain":["s","d"],"range":[[1,0],[4,3]]},"legend":null}}},
  {"data":{"name":"pts"},"transform":[{"filter":"datum.p==='d'"}],"mark":{"type":"errorbar","color":"#444","thickness":1},
   "encoding":{"x":{"field":"m","type":"quantitative","axis":{"orient":"top","values":[0,2,4,6,8,10,12,14,16,18,20,22],"labels":false,"title":null}},"y":{"field":"v","type":"quantitative","axis":{"orient":"right","values":[-50,-40,-30,-20,-10,0,10,20,30,40],"labels":false,"title":null}},"yError":{"field":"e"}}},
  {"data":{"name":"pts"},"transform":[{"filter":"datum.p==='d'"}],"mark":{"type":"point","filled":true,"size":14,"color":"#333","opacity":1},
   "encoding":{"x":{"field":"m","type":"quantitative","axis":null},"y":{"field":"v","type":"quantitative","axis":null}}}
 ],
 "resolve":{"axis":{"x":"independent","y":"independent"}}}
],"spacing":43}
],
"spacing":19
}
